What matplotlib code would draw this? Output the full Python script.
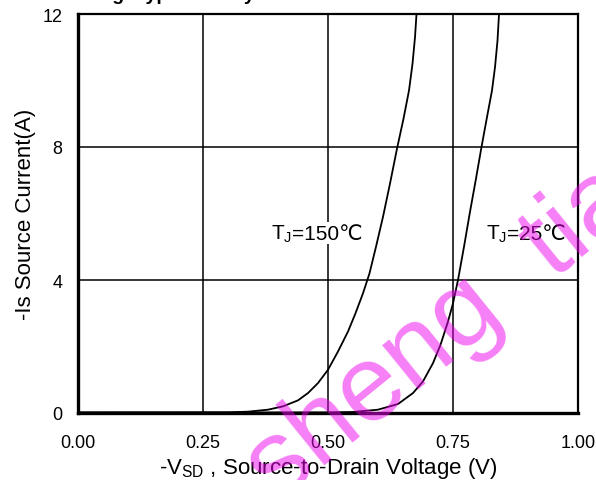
import matplotlib
matplotlib.use("Agg")
import matplotlib.pyplot as plt

# curves
vsd_150 = [0.00, 0.25, 0.30, 0.34, 0.38, 0.41, 0.44, 0.46, 0.48, 0.50, 0.52, 0.54, 0.555, 0.57,
           0.583, 0.596, 0.61, 0.624, 0.638, 0.651, 0.662, 0.669, 0.674, 0.677]
is_150 = [0.02, 0.02, 0.02, 0.04, 0.10, 0.20, 0.38, 0.60, 0.90, 1.30, 1.85, 2.45, 3.00, 3.60,
          4.20, 5.00, 5.90, 6.90, 7.95, 8.85, 9.70, 10.5, 11.3, 12.0]

vsd_25 = [0.00, 0.50, 0.55, 0.60, 0.64, 0.67, 0.69, 0.71, 0.725, 0.74, 0.75, 0.76, 0.772,
          0.784, 0.796, 0.807, 0.818, 0.828, 0.834, 0.839, 0.842]
is_25 = [0.01, 0.02, 0.03, 0.10, 0.27, 0.60, 0.95, 1.50, 2.05, 2.75, 3.30, 4.00, 5.00,
         6.05, 7.05, 8.00, 8.90, 9.70, 10.4, 11.2, 12.0]

x_ticks = [0.00, 0.25, 0.50, 0.75, 1.00]
y_ticks = [0, 4, 8, 12]

plt.rcParams['font.family'] = ['Liberation Sans', 'DejaVu Sans']
plt.rcParams['mathtext.fontset'] = 'custom'
plt.rcParams['mathtext.rm'] = 'Liberation Sans'
plt.rcParams['mathtext.it'] = 'Liberation Sans:italic'

fig = plt.figure(figsize=(5.96, 4.81), dpi=100)
ax = fig.add_axes([78 / 596, 67 / 481, 500 / 596, 399 / 481])

ax.plot(vsd_150, is_150, color='black', lw=1.3, zorder=3)
ax.plot(vsd_25, is_25, color='black', lw=1.3, zorder=3)

ax.set_xlim(0, 1)
ax.set_ylim(0, 12)
ax.set_xticks(x_ticks)
ax.set_xticklabels([f"{v:.2f}" for v in x_ticks])
ax.set_yticks(y_ticks)
ax.tick_params(length=0, labelsize=13)
ax.tick_params(axis='x', pad=15)
ax.tick_params(axis='y', pad=11)
ax.grid(True, color='black', lw=1.1)

for side in ['left', 'bottom']:
    ax.spines[side].set_linewidth(2.4)
for side in ['top', 'right']:
    ax.spines[side].set_linewidth(1.6)

ax.set_xlabel(r"-V$_{\mathrm{SD}}$ , Source-to-Drain Voltage (V)", fontsize=16, labelpad=3)
ax.set_ylabel("-Is Source Current(A)", fontsize=16, labelpad=5)

# temperature labels: subscripted T_J joined to the rest of the text
box = dict(facecolor='white', edgecolor='none', pad=1)
for x_join, rest in [(0.428, "=150℃"), (0.858, "=25℃")]:
    ax.text(x_join, 5.4, r"T$_{\mathrm{J}}$", fontsize=15, ha='right', va='center', bbox=box, zorder=4)
    ax.text(x_join, 5.4, rest, fontsize=15, ha='left', va='center', bbox=box, zorder=4)

# title of the datasheet figure, cut off at the top of the scan
fig.text(95 / 596, 1 - 0.5 / 481, "Fig. Typical Body-Diode Forward Characteristics",
         fontsize=14, fontweight='bold', ha='left', va='baseline')

# distributor watermark
fig.text(277 / 596, 1 - 504 / 481, "sheng  tian", fontsize=78, color='#ee00ee', alpha=0.5,
         rotation=39, rotation_mode='anchor', ha='left', va='baseline', zorder=10)

fig.savefig("out.png", dpi=100)
